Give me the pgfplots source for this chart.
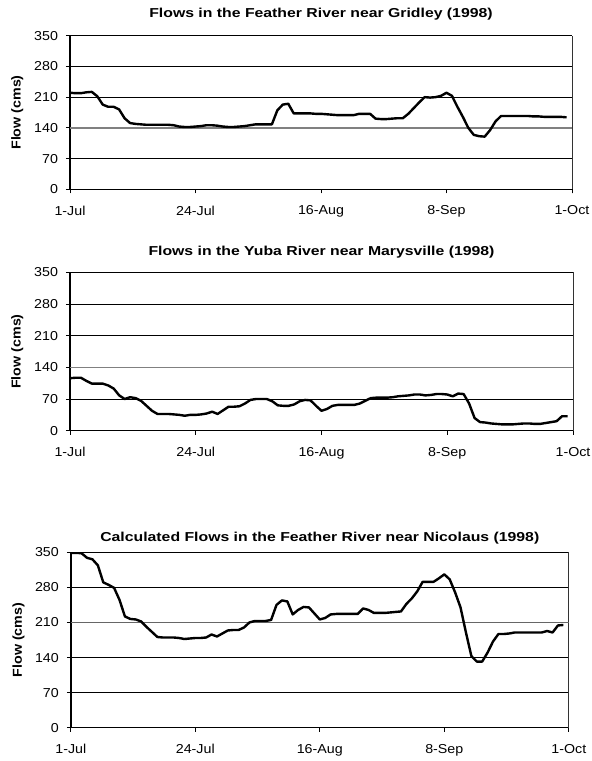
\documentclass[border=0pt]{standalone}
\usepackage{fontspec}
\setmainfont{Liberation Sans}[FakeStretch=1.1]
\newfontfamily\titlefont{Liberation Sans}[FakeStretch=1.22]
\usepackage{pgfplots}
\usepackage{pgfplotstable}
\pgfplotsset{compat=1.18}

% day (0 = 1-Jul) and flow in cms
\pgfplotstableread[row sep=\\]{
d f\\
0 220\\ 1 219\\ 2 219\\ 3 221\\ 4 222\\ 5 212\\ 6 193\\ 7 188\\ 8 188\\ 9 182\\
10 162\\ 11 151\\ 12 149\\ 13 148\\ 14 147\\ 15 147\\ 16 147\\ 17 147\\ 18 147\\ 19 146\\
20 143\\ 21 142\\ 22 142\\ 23 143\\ 24 144\\ 25 146\\ 26 146\\ 27 145\\ 28 143\\ 29 142\\
30 142\\ 31 143\\ 32 144\\ 33 146\\ 34 148\\ 35 148\\ 36 148\\ 37 148\\ 38 180\\ 39 193\\
40 195\\ 41 173\\ 42 173\\ 43 173\\ 44 173\\ 45 172\\ 46 172\\ 47 171\\ 48 170\\ 49 169\\
50 169\\ 51 169\\ 52 169\\ 53 172\\ 54 172\\ 55 172\\ 56 161\\ 57 160\\ 58 160\\ 59 161\\
60 162\\ 61 162\\ 62 172\\ 63 185\\ 64 198\\ 65 210\\ 66 209\\ 67 210\\ 68 213\\ 69 220\\
70 213\\ 71 188\\ 72 165\\ 73 140\\ 74 124\\ 75 121\\ 76 120\\ 77 135\\ 78 155\\ 79 167\\
80 167\\ 81 167\\ 82 167\\ 83 167\\ 84 167\\ 85 166\\ 86 166\\ 87 165\\ 88 165\\ 89 165\\
90 165\\ 91 164\\
}\gridley

\pgfplotstableread[row sep=\\]{
d f\\
0 116\\ 1 117\\ 2 117\\ 3 110\\ 4 104\\ 5 104\\ 6 104\\ 7 100\\ 8 93\\ 9 78\\
10 70\\ 11 74\\ 12 72\\ 13 66\\ 14 55\\ 15 44\\ 16 37\\ 17 37\\ 18 37\\ 19 36\\
20 35\\ 21 33\\ 22 35\\ 23 35\\ 24 36\\ 25 38\\ 26 42\\ 27 37\\ 28 45\\ 29 53\\
30 53\\ 31 54\\ 32 60\\ 33 68\\ 34 70\\ 35 70\\ 36 70\\ 37 65\\ 38 56\\ 39 55\\
40 55\\ 41 58\\ 42 65\\ 43 68\\ 44 67\\ 45 55\\ 46 44\\ 47 48\\ 48 55\\ 49 57\\
50 57\\ 51 57\\ 52 57\\ 53 60\\ 54 66\\ 55 72\\ 56 73\\ 57 73\\ 58 73\\ 59 74\\
60 76\\ 61 77\\ 62 78\\ 63 80\\ 64 80\\ 65 78\\ 66 79\\ 67 81\\ 68 81\\ 69 80\\
70 76\\ 71 82\\ 72 81\\ 73 60\\ 74 28\\ 75 19\\ 76 18\\ 77 16\\ 78 15\\ 79 14\\
80 14\\ 81 14\\ 82 15\\ 83 16\\ 84 16\\ 85 15\\ 86 15\\ 87 17\\ 88 19\\ 89 21\\
90 32\\ 91 32\\
}\yuba

\pgfplotstableread[row sep=\\]{
d f\\
0 349\\ 1 349\\ 2 348\\ 3 339\\ 4 336\\ 5 324\\ 6 290\\ 7 285\\ 8 279\\ 9 255\\
10 222\\ 11 217\\ 12 216\\ 13 212\\ 14 201\\ 15 191\\ 16 181\\ 17 180\\ 18 180\\ 19 180\\
20 179\\ 21 177\\ 22 178\\ 23 179\\ 24 179\\ 25 180\\ 26 186\\ 27 182\\ 28 188\\ 29 194\\
30 195\\ 31 195\\ 32 200\\ 33 210\\ 34 213\\ 35 213\\ 36 213\\ 37 215\\ 38 245\\ 39 254\\
40 252\\ 41 226\\ 42 235\\ 43 241\\ 44 240\\ 45 228\\ 46 216\\ 47 219\\ 48 226\\ 49 227\\
50 227\\ 51 227\\ 52 227\\ 53 227\\ 54 238\\ 55 235\\ 56 229\\ 57 229\\ 58 229\\ 59 230\\
60 231\\ 61 232\\ 62 247\\ 63 258\\ 64 272\\ 65 291\\ 66 291\\ 67 291\\ 68 298\\ 69 306\\
70 296\\ 71 270\\ 72 240\\ 73 190\\ 74 143\\ 75 132\\ 76 132\\ 77 150\\ 78 172\\ 79 187\\
80 187\\ 81 188\\ 82 190\\ 83 190\\ 84 190\\ 85 190\\ 86 190\\ 87 190\\ 88 193\\ 89 190\\
90 204\\ 91 205\\
}\nicolaus

\pgfplotsset{
  flowpanel/.style={
    scale only axis,
    xmin=0, xmax=92, ymin=0, ymax=350,
    xtick={0,23,46,69,92},
    xticklabels={1-Jul,24-Jul,16-Aug,8-Sep,1-Oct},
    ytick={0,70,140,210,280,350},
    axis x line*=bottom, axis y line*=left,
    axis line style={-, black, line width=1.4bp},
    tick align=outside, major tick length=4bp,
    tick style={black, line width=0.8bp},
    ymajorgrids,
    major grid style={black, line width=0.6bp},
    extra x ticks={92}, extra x tick labels={},
    extra x tick style={xmajorgrids, major grid style={black!80, line width=0.8bp}},
    /pgf/number format/assume math mode=true,
    tick label style={font=\fontsize{13}{15}\selectfont},
    xticklabel style={yshift=-9bp},
    yticklabel style={xshift=-4.5bp},
    title style={font=\titlefont\bfseries\fontsize{13}{15}\selectfont, anchor=center},
    ylabel={Flow (cms)},
    ylabel style={font=\bfseries\fontsize{13}{15}\selectfont,
      at={(axis description cs:-0.105,0.5)}, anchor=center, rotate=0},
  },
  flowline/.style={black, line width=2.4bp, line join=round},
}

\begin{document}
\begin{tikzpicture}
\useasboundingbox (0,0) rectangle (592bp,-761bp);

\begin{axis}[flowpanel, at={(70bp,-35.7bp)}, anchor=north west,
  width=502bp, height=153.6bp,
  title={Flows in the Feather River near Gridley (1998)},
  title style={at={(0.5,1)}, yshift=15.7bp},
  extra y ticks={140}, extra y tick labels={},
  extra y tick style={ymajorgrids, major grid style={gray, line width=1.6bp}, major tick length=0pt}]
\addplot[flowline] table[x=d, y=f] {\gridley};
\end{axis}

\begin{axis}[flowpanel, at={(70bp,-272.3bp)}, anchor=north west,
  width=503bp, height=158.4bp,
  title={Flows in the Yuba River near Marysville (1998)},
  title style={at={(0.5,1)}, yshift=14.3bp},
  extra y ticks={140}, extra y tick labels={},
  extra y tick style={ymajorgrids, major grid style={gray, line width=1.6bp}, major tick length=0pt}]
\addplot[flowline] table[x=d, y=f] {\yuba};
\end{axis}

\begin{axis}[flowpanel, at={(70.8bp,-552.3bp)}, anchor=north west,
  width=498bp, height=175.4bp,
  title={Calculated Flows in the Feather River near Nicolaus (1998)},
  title style={at={(0.5,1)}, yshift=8.3bp},
  extra y ticks={210}, extra y tick labels={},
  extra y tick style={ymajorgrids, major grid style={gray!80!black, line width=1.1bp}, major tick length=0pt}]
\addplot[flowline] table[x=d, y=f] {\nicolaus};
\end{axis}
\end{tikzpicture}
\end{document}
